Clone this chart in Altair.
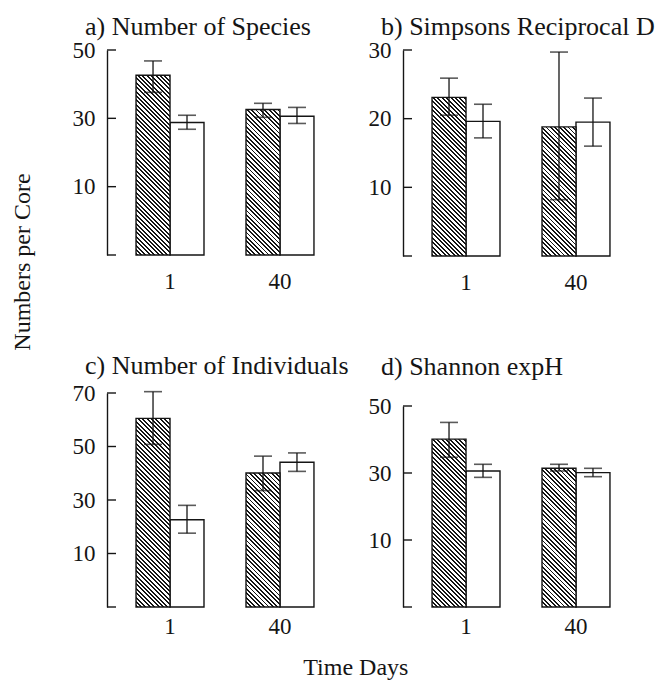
import altair as alt
import pandas as pd

DAYS = ["1", "40"]
GROUPS = ["shaded", "open"]

# Means and error limits, ordered: day 1 shaded, day 1 open, day 40 shaded, day 40 open
species_mean = [42.6, 28.8, 32.6, 30.6]
species_low = [37.6, 26.8, 30.3, 28.5]
species_high = [46.8, 30.9, 34.4, 33.2]

simpson_mean = [23.1, 19.6, 18.8, 19.5]
simpson_low = [20.5, 17.2, 8.2, 16.0]
simpson_high = [25.9, 22.1, 29.7, 23.0]

individuals_mean = [60.5, 22.6, 40.1, 44.1]
individuals_low = [50.8, 17.6, 33.5, 40.7]
individuals_high = [70.5, 28.0, 46.4, 47.6]

shannon_mean = [40.1, 30.6, 31.4, 30.1]
shannon_low = [34.7, 28.7, 30.6, 28.9]
shannon_high = [45.1, 32.6, 32.6, 31.4]

# Axis tick positions (first one is the unlabelled bottom of each axis)
species_ticks = [-10, 10, 30, 50]
simpson_ticks = [0, 10, 20, 30]
individuals_ticks = [-10, 10, 30, 50, 70]
shannon_ticks = [-10, 10, 30, 50]

FONT = "Liberation Serif"
INK = "#151515"
W = 236
PAD_IN, PAD_OUT = 0.382, 0.264
STEP = W / (len(DAYS) - PAD_IN + 2 * PAD_OUT)
BAR_W = STEP * (1 - PAD_IN) / len(GROUPS)


def hatch_fill(w, h, period=4.4, ink=0.45):
    """Diagonal (top-left to bottom-right) stripes as a sharp-stop linear gradient."""
    span = w + h
    stops = []
    k = 0
    while k * period < span:
        a = k * period / span
        b = min((k * period + ink * period) / span, 1.0)
        c = min((k + 1) * period / span, 1.0)
        stops += [
            alt.GradientStop(color=INK, offset=a),
            alt.GradientStop(color=INK, offset=b),
            alt.GradientStop(color="white", offset=b),
            alt.GradientStop(color="white", offset=c),
        ]
        k += 1
    s = span / (w * w + h * h)
    return alt.LinearGradient(gradient="linear", stops=stops,
                              x1=0, y1=1, x2=s * w, y2=1 - s * h)


def panel(title, mean, low, high, ticks, height, title_offset, day_label_pad):
    ymin, ymax = ticks[0], ticks[-1]
    df = pd.DataFrame({
        "day": [d for d in DAYS for _ in GROUPS],
        "group": GROUPS * len(DAYS),
        "mean": mean,
        "low": low,
        "high": high,
    })
    df["base"] = ymin
    yscale = alt.Scale(domain=[ymin, ymax], nice=False, zero=False)
    yaxis = alt.Axis(values=ticks[1:], ticks=False, grid=False, title=None,
                     domainColor=INK, domainWidth=1.4,
                     labelFont=FONT, labelFontSize=23, labelColor=INK,
                     labelPadding=12)

    def yenc(field):
        return alt.Y(field, type="quantitative", scale=yscale, axis=yaxis, title=None)

    x = alt.X(
        "day:N", sort=DAYS, title=None,
        scale=alt.Scale(domain=DAYS, paddingInner=PAD_IN, paddingOuter=PAD_OUT),
        axis=alt.Axis(domain=False, ticks=False, labelAngle=0, labelFont=FONT,
                      labelFontSize=23, labelColor=INK, labelPadding=day_label_pad),
    )
    xo = alt.XOffset("group:N", scale=alt.Scale(domain=GROUPS, paddingInner=0, paddingOuter=0))
    base = alt.Chart(df).encode(x=x, xOffset=xo)

    open_bars = base.transform_filter(alt.datum.group == "open").mark_bar(
        fill="white", stroke=INK, strokeWidth=1.4
    ).encode(y=yenc("mean"), y2="base:Q")

    layers = [open_bars]
    for i, day in enumerate(DAYS):
        v = mean[i * len(GROUPS)]
        h = (v - ymin) / (ymax - ymin) * height
        layers.append(
            base.transform_filter((alt.datum.group == "shaded") & (alt.datum.day == day))
            .mark_bar(fill=hatch_fill(BAR_W, h), stroke=INK, strokeWidth=1.4)
            .encode(y=yenc("mean"), y2="base:Q")
        )

    err = base.mark_rule(color=INK, strokeWidth=1.3).encode(y=yenc("low"), y2="high:Q")
    cap_hi = base.mark_tick(color=INK, orient="horizontal", size=18, thickness=1.6).encode(
        y=yenc("high"))
    cap_lo = base.mark_tick(color=INK, orient="horizontal", size=18, thickness=1.6).encode(
        y=yenc("low"))

    inner_ticks = alt.Chart(pd.DataFrame({"v": ticks})).mark_rule(
        color=INK, strokeWidth=1.4
    ).encode(y=yenc("v"), x=alt.value(0), x2=alt.value(9))

    return alt.layer(*layers, err, cap_hi, cap_lo, inner_ticks).properties(
        width=W, height=height,
        title=alt.TitleParams(text=title, anchor="start", frame="group", dx=-22,
                              offset=title_offset, fontSize=26, font=FONT,
                              fontWeight="normal", color=INK, baseline="alphabetic"),
    )


pa = panel("a) Number of Species", species_mean, species_low, species_high,
           species_ticks, 205, -22, 15)
pb = panel("b) Simpsons Reciprocal D", simpson_mean, simpson_low, simpson_high,
           simpson_ticks, 206, -22, 15)
pc = panel("c) Number of Individuals", individuals_mean, individuals_low, individuals_high,
           individuals_ticks, 214, -18, 8)
pd_ = panel("d) Shannon expH", shannon_mean, shannon_low, shannon_high,
            shannon_ticks, 201, -6, 8)

left = alt.vconcat(pa, pc, spacing=60)
right = alt.vconcat(pb, pd_, spacing=60)
grid = alt.hconcat(
    left, right, spacing=19,
    title=alt.TitleParams("Numbers per Core", orient="left", anchor="middle", dx=64,
                          fontSize=24, font=FONT, fontWeight="normal", color=INK, offset=37),
)
chart = alt.vconcat(
    grid,
    title=alt.TitleParams("Time Days", orient="bottom", anchor="middle", dx=23,
                          fontSize=24, font=FONT, fontWeight="normal", color=INK, offset=18),
).configure_view(stroke=None).properties(
    padding={"left": 10, "top": 14, "right": 0, "bottom": 0}, background="white"
)

chart.save("out.html", embed_options={"renderer": "svg", "actions": False})
